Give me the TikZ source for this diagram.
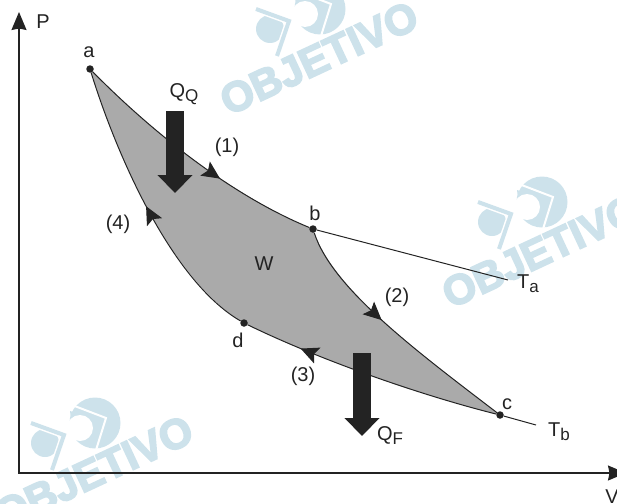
\documentclass[tikz,border=0pt]{standalone}
\usepackage{fontspec}
\setmainfont{Liberation Sans}
\font\wmfont="Liberation Sans/B:embolden=4" at 42pt
\usetikzlibrary{arrows.meta, decorations.markings}
\definecolor{cycleGray}{RGB}{170,170,170}
\definecolor{darkText}{RGB}{35,35,35}
\definecolor{markBlue}{RGB}{205,226,235}
\newcommand{\lowtxt}[1]{\raisebox{-4pt}{\fontsize{17}{17}\selectfont #1}}
\newcommand{\wmark}[2]{%
    \begin{scope}[shift={(#1,#2)}]
        \fill[markBlue] (0,0) circle (25.5);
        \fill[markBlue] (-25,-12) -- (7,-2) -- (-3,24) -- (-22,14) -- cycle;
        \draw[white, line width=2pt] (-23,-18) -- (11,-5) -- (1,27);
        \fill[white] (-15,5) circle (13);
        \fill[markBlue] (-50,20) circle (14);
        \draw[white, line width=7pt] (-64,0) -- (-31,12) -- (-43,47);
        \draw[markBlue, line width=4pt] (-64,0) -- (-31,12) -- (-43,47);
        \node[wmtext] at (-1,49) {OBJETIVO};
    \end{scope}
}
\tikzset{
    wmtext/.style={text=markBlue, rotate=25, font=\wmfont},
    ptdot/.style={circle, fill=darkText, inner sep=0pt, minimum size=7.5pt},
    lbl/.style={text=darkText, inner sep=0pt, font=\fontsize{20}{22}\selectfont},
    curveline/.style={draw=darkText, line width=1pt},
    cyclearrow/.style={curveline, postaction={decorate},
        decoration={markings, mark=at position #1 with {\arrow{Stealth[length=18pt,width=17pt,inset=3.5pt]}}}},
    axisarrow/.style={{Stealth[length=18pt,width=15pt,inset=1.5pt]}-{Stealth[length=18pt,width=15pt,inset=1.5pt]}, draw=darkText, line width=1.2pt},
    heatarrow/.style={-{Triangle[length=18pt,width=34pt]}, draw=darkText, line width=17.5pt}
}
\begin{document}
\begin{tikzpicture}[x=1pt, y=-1pt]
    \clip (0,0) rectangle (617,503);
    \wmark{320}{9}
    \wmark{542}{202}
    \wmark{95}{423}
    % axes
    \coordinate (ptop) at (19,12);
    \coordinate (origin) at (19,473);
    \coordinate (vend) at (626,473);
    \draw[axisarrow] (ptop) -- (origin) -- (vend);
    % cycle
    \fill[cycleGray] (90,69) .. controls (150,130) and (230,195) .. (313,229)
        .. controls (332,288) and (415,350) .. (500,415)
        .. controls (420,395) and (320,360) .. (244,323)
        .. controls (170,280) and (115,150) .. (90,69) -- cycle;
    \node[ptdot] (a) at (90,69) {};
    \node[ptdot] (b) at (313,229) {};
    \node[ptdot] (c) at (500,415) {};
    \node[ptdot] (d) at (244,323) {};
    \coordinate (ta) at (508,280);
    \coordinate (tb) at (536,425);
    \draw[cyclearrow=0.62] (a) .. controls (150,130) and (230,195) .. (b);
    \draw[cyclearrow=0.43] (b) .. controls (332,288) and (415,350) .. (c);
    \draw[cyclearrow=0.78] (c) .. controls (420,395) and (320,360) .. (d);
    \draw[cyclearrow=0.51] (d) .. controls (170,280) and (115,150) .. (a);
    \draw[curveline] (b) -- (ta);
    \draw[curveline] (c) -- (tb);
    % heat
    \coordinate (qqtop) at (175,111);
    \coordinate (qqtip) at (175,193);
    \coordinate (qftop) at (362,353);
    \coordinate (qftip) at (362,436);
    \draw[heatarrow] (qqtop) -- (qqtip);
    \draw[heatarrow] (qftop) -- (qftip);
    % labels
    \node[lbl] (plbl) at (43,22) {P};
    \node[lbl] (vlbl) at (612,497) {V};
    \node[lbl] (albl) at (89,52) {a};
    \node[lbl] (blbl) at (315,213) {b};
    \node[lbl] (clbl) at (507,404) {c};
    \node[lbl] (dlbl) at (238,340) {d};
    \node[lbl] (wlbl) at (264,264) {W};
    \node[lbl] (one) at (227,147) {(1)};
    \node[lbl] (two) at (397,297) {(2)};
    \node[lbl] (three) at (303,376) {(3)};
    \node[lbl] (four) at (118,224) {(4)};
    \node[lbl] (qq) at (184,94) {Q\lowtxt{Q}};
    \node[lbl] (qf) at (390,436) {Q\lowtxt{F}};
    \node[lbl] (talbl) at (528,284) {T\lowtxt{a}};
    \node[lbl] (tblbl) at (559,432) {T\lowtxt{b}};
\end{tikzpicture}
\end{document}
